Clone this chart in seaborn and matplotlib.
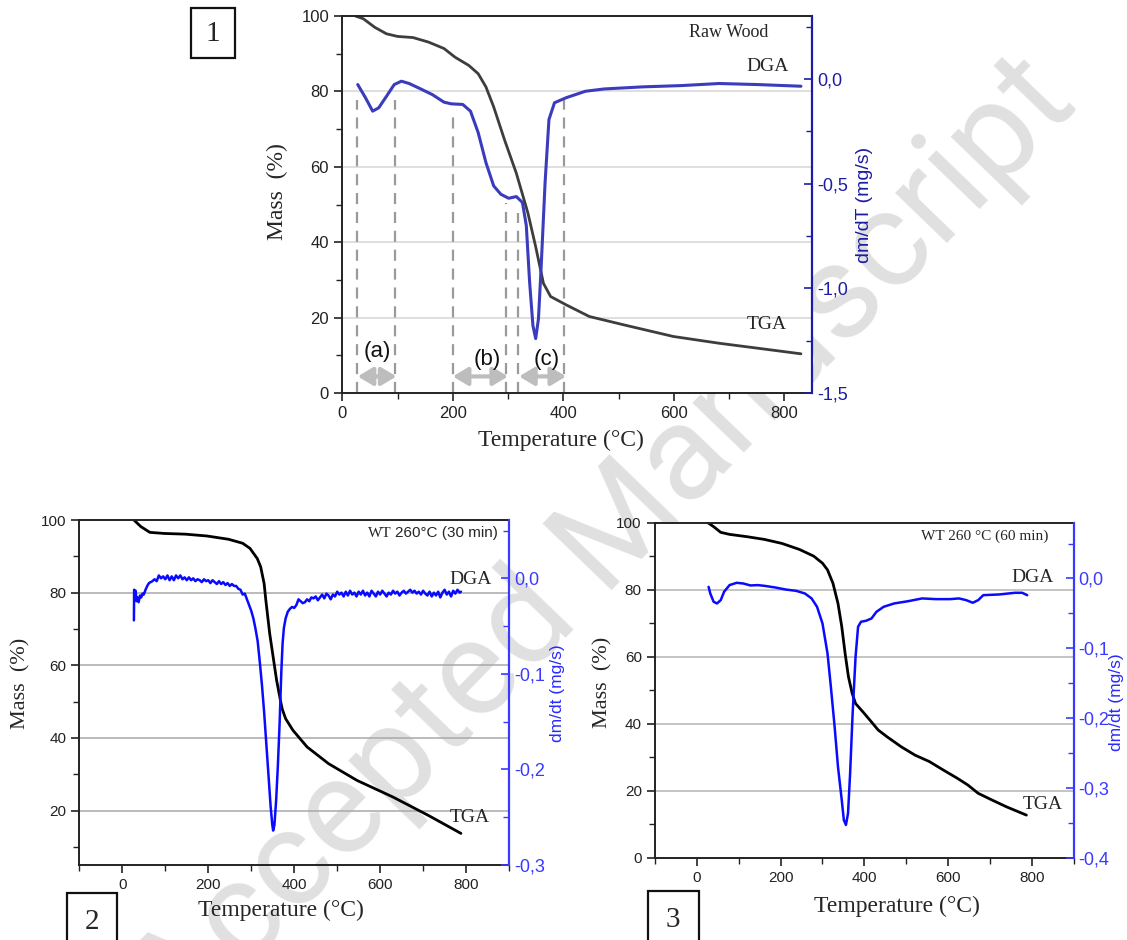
import matplotlib
matplotlib.use("Agg")
import matplotlib.pyplot as plt
import numpy as np
import pandas as pd
import seaborn as sns
from matplotlib.patches import Rectangle
from matplotlib.ticker import MultipleLocator

sns.set_style("ticks")
plt.rcParams['font.family'] = ['Liberation Sans', 'DejaVu Sans']

SERIF = ['Liberation Serif', 'DejaVu Serif']
NARROW = ['Liberation Sans Narrow', 'Liberation Sans', 'DejaVu Sans']

# ---- panel 1 : raw wood ----
raw_tga_t = [24, 38, 59, 80, 100, 128, 156, 184, 204, 229, 246, 260, 274, 294, 315, 336,
             350, 364, 377, 405, 447, 509, 599, 682, 751, 830]
raw_tga_m = [100, 99.3, 97, 95.3, 94.6, 94.3, 93.1, 91.4, 89.1, 86.9, 84.7, 81.2, 75.9, 67,
             58.3, 47.7, 38.8, 29.1, 25.6, 23.4, 20.3, 18.1, 15.0, 13.2, 11.9, 10.4]
raw_dga_t = [28, 42, 55, 66, 80, 94, 107, 121, 142, 163, 184, 197, 218, 232, 246, 260, 274,
             287, 301, 315, 326, 333, 339, 345, 350, 355, 360, 367, 374, 384, 405, 440, 474,
             544, 613, 682, 751, 830]
raw_dga_v = [-0.027, -0.09, -0.154, -0.138, -0.083, -0.027, -0.011, -0.022, -0.048, -0.075,
             -0.111, -0.119, -0.122, -0.154, -0.257, -0.40, -0.511, -0.551, -0.57, -0.562,
             -0.59, -0.70, -0.97, -1.178, -1.24, -1.146, -0.892, -0.495, -0.194, -0.114,
             -0.09, -0.059, -0.048, -0.038, -0.032, -0.022, -0.027, -0.035]
raw_marks_t = [27, 95, 200, 296, 318, 401]
raw_marks_top = [77.7, 77.7, 73.3, 50.3, 47.7, 77.7]
stage_names = ['(a)', '(b)', '(c)']
stage_from = [28, 200, 320]
stage_to = [98, 300, 405]
stage_label_t = [63, 263, 369]
stage_label_m = [11, 9, 9]

# ---- panel 2 : WT 260 C, 30 min ----
wt30_tga_t = [27, 43, 64, 97, 147, 197, 247, 280, 297, 314, 322, 330, 334, 343, 351, 359,
              368, 372, 380, 397, 430, 480, 546, 630, 713, 788]
wt30_tga_m = [100, 98.2, 96.6, 96.3, 96.1, 95.6, 94.7, 93.6, 92.2, 89.4, 87.1, 82.5, 77.9,
              68.7, 62.3, 55.9, 50.3, 48.0, 45.3, 42.1, 37.5, 32.9, 28.3, 23.7, 18.6, 13.7]
wt30_dga_t = [27, 27.5, 29, 31, 33, 35, 38, 41, 44, 47, 50, 54, 58, 62, 66, 70, 75, 80, 85,
              90, 95, 100, 105, 110, 115, 120, 125, 130, 135, 140, 145, 150, 155, 160, 165,
              170, 175, 180, 185, 190, 195, 200, 205, 210, 215, 220, 225, 230, 235, 240, 245,
              250, 255, 260, 265, 270, 275, 280, 285, 290, 295, 300, 305, 310, 315, 320, 325,
              330, 335, 340, 345, 349, 351, 354, 358, 362, 366, 370, 373, 376, 380, 385, 390,
              395, 400, 405, 410, 415, 420, 425, 430, 435, 440, 445, 450, 455, 460, 465, 470,
              475, 480, 485, 490, 495, 500, 505, 510, 515, 520, 525, 530, 535, 540, 545, 550,
              555, 560, 565, 570, 575, 580, 585, 590, 595, 600, 605, 610, 615, 620, 625, 630,
              635, 640, 645, 650, 655, 660, 665, 670, 675, 680, 685, 690, 695, 700, 705, 710,
              715, 720, 725, 730, 735, 740, 745, 750, 755, 760, 765, 770, 775, 780, 785, 788]
wt30_dga_v = [-0.044, -0.012, -0.016, -0.013, -0.024, -0.020, -0.025, -0.018, -0.020, -0.016,
              -0.017, -0.012, -0.008, -0.005, -0.004, -0.003, -0.001, -0.003, 0.003, 0.000,
              0.002, -0.001, 0.003, -0.002, 0.002, -0.002, 0.003, 0.000, 0.003, -0.001,
              0.001, -0.002, 0.001, -0.002, 0.000, -0.003, -0.001, -0.002, -0.004, -0.001,
              -0.003, -0.002, -0.005, -0.002, -0.004, -0.006, -0.003, -0.006, -0.004, -0.007,
              -0.005, -0.008, -0.006, -0.008, -0.008, -0.011, -0.012, -0.017, -0.016, -0.022,
              -0.028, -0.034, -0.042, -0.053, -0.066, -0.088, -0.112, -0.140, -0.172, -0.205,
              -0.238, -0.258, -0.264, -0.258, -0.232, -0.196, -0.152, -0.098, -0.068, -0.052,
              -0.042, -0.035, -0.032, -0.030, -0.031, -0.028, -0.022, -0.024, -0.026, -0.025,
              -0.022, -0.024, -0.020, -0.021, -0.019, -0.023, -0.020, -0.017, -0.021, -0.016,
              -0.018, -0.022, -0.017, -0.019, -0.014, -0.017, -0.015, -0.019, -0.014, -0.018,
              -0.013, -0.017, -0.015, -0.019, -0.014, -0.017, -0.013, -0.018, -0.015, -0.019,
              -0.013, -0.016, -0.019, -0.014, -0.017, -0.013, -0.016, -0.019, -0.015, -0.017,
              -0.013, -0.016, -0.014, -0.018, -0.015, -0.013, -0.016, -0.014, -0.012, -0.015,
              -0.013, -0.016, -0.014, -0.017, -0.013, -0.016, -0.018, -0.014, -0.019, -0.015,
              -0.018, -0.014, -0.020, -0.015, -0.012, -0.017, -0.014, -0.019, -0.013, -0.016,
              -0.012, -0.015, -0.014]

# ---- panel 3 : WT 260 C, 60 min ----
wt60_tga_t = [26, 40, 57, 78, 120, 161, 203, 245, 279, 300, 312, 325, 337, 346, 354, 362,
              371, 379, 396, 413, 433, 454, 488, 521, 555, 588, 622, 647, 672, 705, 739, 787]
wt60_tga_m = [100, 98.8, 97.1, 96.5, 95.8, 95.0, 93.8, 92.0, 90.0, 87.9, 85.9, 81.9, 75.9,
              69.0, 61.0, 54.0, 49.0, 46.0, 43.6, 41.1, 38.1, 36.1, 33.1, 30.6, 28.7, 26.2,
              23.7, 21.7, 19.2, 17.2, 15.2, 12.7]
wt60_dga_t = [28, 32, 40, 48, 57, 65, 78, 95, 111, 128, 145, 161, 187, 212, 237, 258, 274,
              287, 300, 312, 320, 329, 337, 346, 351, 356, 361, 366, 372, 379, 385, 392, 404,
              417, 429, 446, 471, 505, 538, 571, 605, 626, 643, 659, 672, 684, 722, 760, 777,
              789]
wt60_dga_v = [-0.012, -0.0215, -0.0334, -0.0358, -0.031, -0.019, -0.0095, -0.0062, -0.0072,
              -0.010, -0.0095, -0.0105, -0.0129, -0.0158, -0.0177, -0.0215, -0.0286, -0.0406,
              -0.0644, -0.1074, -0.155, -0.2124, -0.2697, -0.3174, -0.346, -0.3532, -0.3365,
              -0.279, -0.1933, -0.1122, -0.0692, -0.062, -0.0606, -0.0573, -0.0477, -0.0406,
              -0.0358, -0.0325, -0.0286, -0.0296, -0.0296, -0.0286, -0.031, -0.0348, -0.031,
              -0.0239, -0.0229, -0.0205, -0.0205, -0.0239]

mass_ticks_1 = [0, 20, 40, 60, 80, 100]
mass_ticks_2 = [20, 40, 60, 80, 100]
mass_ticks_3 = [0, 20, 40, 60, 80, 100]
temp_ticks = [0, 200, 400, 600, 800]
rate_ticks_1 = [0.0, -0.5, -1.0, -1.5]
rate_labels_1 = ['0,0', '-0,5', '-1,0', '-1,5']
rate_ticks_2 = [0.0, -0.1, -0.2, -0.3]
rate_labels_2 = ['0,0', '-0,1', '-0,2', '-0,3']
rate_ticks_3 = [0.0, -0.1, -0.2, -0.3, -0.4]
rate_labels_3 = ['0,0', '-0,1', '-0,2', '-0,3', '-0,4']

fig = plt.figure(figsize=(11.27, 9.4), dpi=100)

# watermark on a background layer so the white panels can cover it
bg = fig.add_axes([0, 0, 1, 1], zorder=-10)
bg.axis('off')
bg.text(0.958, 0.888, 'Accepted Manuscript', rotation=46, rotation_mode='anchor',
        fontsize=98, color='#e0e0e0', family='Roboto', ha='right', va='baseline',
        transform=bg.transAxes)


def setup(ax, tw, xlim, ylim, rlim, yt, rt, rl, axis_color, grid_color, xminor, yminor, rminor):
    ax.set_xlim(*xlim)
    ax.set_ylim(*ylim)
    tw.set_ylim(*rlim)
    ax.set_xticks(temp_ticks)
    ax.set_yticks(yt)
    ax.xaxis.set_minor_locator(MultipleLocator(xminor))
    ax.yaxis.set_minor_locator(MultipleLocator(yminor))
    tw.set_yticks(rt, rl)
    tw.yaxis.set_minor_locator(MultipleLocator(rminor))
    for g in [20, 40, 60, 80]:
        ax.axhline(g, color=grid_color, lw=1.1, zorder=0)
    ax.spines['right'].set_visible(False)
    for s in ['left', 'bottom', 'top']:
        ax.spines[s].set_color('#222222')
        ax.spines[s].set_linewidth(1.4)
    tw.spines['right'].set_color(axis_color)
    tw.spines['right'].set_linewidth(1.6)
    for s in ['left', 'bottom', 'top']:
        tw.spines[s].set_visible(False)
    ax.tick_params(which='major', direction='out', length=6, width=1.2, colors='#222222')
    ax.tick_params(which='minor', direction='out', length=4, width=1.0, colors='#222222')
    ax.tick_params(axis='both', which='both', top=False, right=False)
    tw.tick_params(which='major', direction='in', length=6, width=1.2, colors=axis_color)
    tw.tick_params(which='minor', direction='in', length=4, width=1.0, colors=axis_color)
    ax.set_xlabel('')
    ax.set_ylabel('')
    tw.set_ylabel('')


# ---------- panel 1 ----------
ax1 = fig.add_axes([0.3037, 0.5819, 0.4168, 0.401])
ax1.set_facecolor('white')
tw1 = ax1.twinx()
c1_axis = '#1c1ca4'
c1_line = '#3b3bbd'
setup(ax1, tw1, (0, 850), (0, 100), (-1.5, 0.3), mass_ticks_1, rate_ticks_1, rate_labels_1,
      c1_axis, '#d6d6d6', 100, 10, 0.25)
for t, top in zip(raw_marks_t, raw_marks_top):
    ax1.plot([t, t], [0, top], color='#9a9a9a', lw=1.6, ls=(0, (5, 3.5)), zorder=1)
sns.lineplot(x=raw_tga_t, y=raw_tga_m, ax=ax1, color='#3d3d3d', lw=2.0, estimator=None)
sns.lineplot(x=raw_dga_t, y=raw_dga_v, ax=tw1, color=c1_line, lw=2.2, estimator=None)
for a, b in zip(stage_from, stage_to):
    ax1.annotate('', xy=(b, 4.4), xytext=(a, 4.4),
                 arrowprops=dict(arrowstyle='<|-|>,head_length=0.5,head_width=0.3',
                                 color='#bdbdbd', lw=3, mutation_scale=18,
                                 shrinkA=0, shrinkB=0))
for name, t, m in zip(stage_names, stage_label_t, stage_label_m):
    ax1.text(t, m, name, fontsize=16, ha='center', va='center', color='#111111')
ax1.text(700, 95.6, 'Raw Wood', family=SERIF, fontsize=13, ha='center', va='center')
ax1.text(769, 86.5, 'DGA', family=SERIF, fontsize=14, ha='center', va='center')
ax1.text(769, 18.1, 'TGA', family=SERIF, fontsize=14, ha='center', va='center')
ax1.tick_params(labelsize=12)
for lab in tw1.get_yticklabels():
    lab.set_family(NARROW)
    lab.set_fontsize(13)
fig.text(0.2458, 0.796, 'Mass  (%)', family=SERIF, fontsize=17, rotation=90, ha='center', va='center')
fig.text(0.498, 0.532, 'Temperature (°C)', family=SERIF, fontsize=17, ha='center', va='center')
fig.text(0.7675, 0.782, 'dm/dT (mg/s)', fontsize=14, rotation=90, ha='center', va='center',
         color=c1_axis)

# ---------- panel 2 ----------
ax2 = fig.add_axes([0.0704, 0.0798, 0.3813, 0.367])
ax2.set_facecolor('none')
tw2 = ax2.twinx()
c2 = '#0a0aff'
setup(ax2, tw2, (-100, 900), (5, 100), (-0.3, 0.061), mass_ticks_2, rate_ticks_2, rate_labels_2,
      '#3a3aff', '#a8a8a8', 100, 10, 0.05)
sns.lineplot(x=wt30_tga_t, y=wt30_tga_m, ax=ax2, color='black', lw=2.0, estimator=None)
sns.lineplot(x=wt30_dga_t, y=wt30_dga_v, ax=tw2, color=c2, lw=1.8, estimator=None)
ax2.text(571, 96.3, 'WT', family=SERIF, fontsize=11, ha='left', va='center')
ax2.text(875, 96.3, '260°C (30 min)', fontsize=11, ha='right', va='center')
ax2.text(811, 83.7, 'DGA', family=SERIF, fontsize=14, ha='center', va='center')
ax2.text(809, 18.2, 'TGA', family=SERIF, fontsize=14, ha='center', va='center')
ax2.tick_params(labelsize=11)
for lab in tw2.get_yticklabels():
    lab.set_family(NARROW)
    lab.set_fontsize(13)
fig.text(0.0188, 0.273, 'Mass  (%)', family=SERIF, fontsize=16, rotation=90, ha='center', va='center')
fig.text(0.2495, 0.031, 'Temperature (°C)', family=SERIF, fontsize=17, ha='center', va='center')
fig.text(0.495, 0.263, 'dm/dt (mg/s)', fontsize=12.5, rotation=90, ha='center', va='center',
         color='#2a2aff')

# ---------- panel 3 ----------
ax3 = fig.add_axes([0.5812, 0.0876, 0.3715, 0.3564])
ax3.set_facecolor('white')
tw3 = ax3.twinx()
setup(ax3, tw3, (-100, 900), (0, 100), (-0.4, 0.08), mass_ticks_3, rate_ticks_3, rate_labels_3,
      '#3a3aff', '#b4b4b4', 100, 10, 0.05)
sns.lineplot(x=wt60_tga_t, y=wt60_tga_m, ax=ax3, color='black', lw=2.0, estimator=None)
sns.lineplot(x=wt60_dga_t, y=wt60_dga_v, ax=tw3, color=c2, lw=1.8, estimator=None)
ax3.text(839, 95.8, 'WT 260 °C (60 min)', family=SERIF, fontsize=11, ha='right', va='center')
ax3.text(802, 83.6, 'DGA', family=SERIF, fontsize=14, ha='center', va='center')
ax3.text(827, 16.0, 'TGA', family=SERIF, fontsize=14, ha='center', va='center')
ax3.tick_params(labelsize=11)
for lab in tw3.get_yticklabels():
    lab.set_family(NARROW)
    lab.set_fontsize(13)
fig.text(0.5348, 0.2737, 'Mass  (%)', family=SERIF, fontsize=16, rotation=90, ha='center', va='center')
fig.text(0.796, 0.036, 'Temperature (°C)', family=SERIF, fontsize=17, ha='center', va='center')
fig.text(0.991, 0.253, 'dm/dt (mg/s)', fontsize=12.5, rotation=90, ha='center', va='center',
         color='#2a2aff')

# ---------- numbered boxes ----------
boxes = [('1', 0.1695, 0.9383, 0.0390, 0.0532, 0.189, 0.9638),
         ('2', 0.0594, -0.005, 0.0444, 0.0553, 0.0816, 0.019),
         ('3', 0.5750, -0.005, 0.0453, 0.0575, 0.597, 0.021)]
for txt, bx, by, bw, bh, tx, ty in boxes:
    fig.add_artist(Rectangle((bx, by), bw, bh, transform=fig.transFigure, fill=False,
                             lw=1.6, edgecolor='#111111'))
    fig.text(tx, ty, txt, family=SERIF, fontsize=21, ha='center', va='center')

fig.savefig('out.png', dpi=100)
